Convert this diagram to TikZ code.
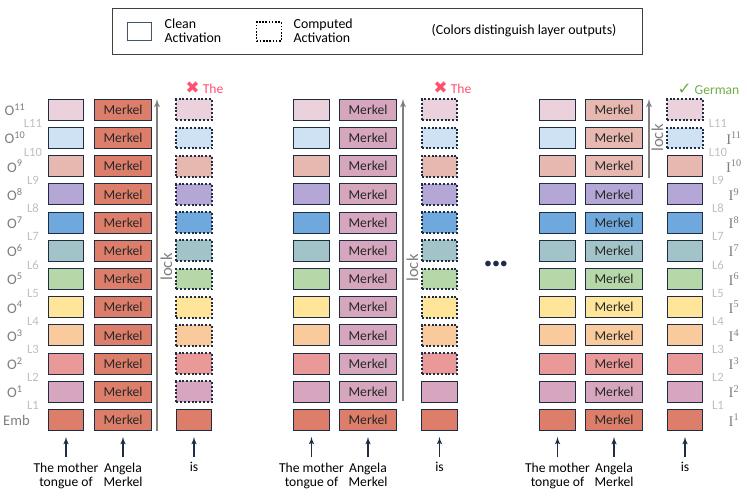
\documentclass[tikz,border=0pt]{standalone}
\usepackage{fontspec}
\setmainfont{Carlito}
\newfontfamily\symfont{DejaVu Sans}
\newfontfamily\seriffont{Liberation Serif}
\usepackage{tikz}
\usetikzlibrary{arrows}

\definecolor{lay0}{HTML}{DD7E6B}
\definecolor{lay1}{HTML}{D5A6BD}
\definecolor{lay2}{HTML}{EA9999}
\definecolor{lay3}{HTML}{F9CB9C}
\definecolor{lay4}{HTML}{FFE599}
\definecolor{lay5}{HTML}{B6D7A8}
\definecolor{lay6}{HTML}{A2C4C9}
\definecolor{lay7}{HTML}{6FA8DC}
\definecolor{lay8}{HTML}{B4A7D6}
\definecolor{lay9}{HTML}{E6B8AF}
\definecolor{lay10}{HTML}{CFE2F3}
\definecolor{lay11}{HTML}{EAD1DC}
\definecolor{navy}{HTML}{1F2D44}
\definecolor{slate}{HTML}{44546A}
\definecolor{lockgray}{HTML}{808080}
\definecolor{outgray}{HTML}{7F7F7F}
\definecolor{layergray}{HTML}{BFBFBF}
\definecolor{wrongred}{HTML}{FF4F6E}
\definecolor{rightgreen}{HTML}{70AD47}

\begin{document}
\begin{tikzpicture}
[x=0.75pt,y=-0.75pt,
cleanCell/.style={rectangle,draw=navy,line width=0.75pt,minimum width=26.5pt,minimum height=15.7pt,inner sep=0pt},
wordCell/.style={cleanCell,minimum width=43pt,font=\fontsize{10.2}{12}\selectfont,text=black!85},
computedCell/.style={cleanCell,line width=1.5pt,dash pattern=on 1.5pt off 1.35pt},
outLabel/.style={text=outgray,font=\fontsize{11}{12}\selectfont},
layerLabel/.style={text=layergray,font=\fontsize{9.5}{11}\selectfont},
inLabel/.style={text=outgray,font=\fontsize{11}{12}\seriffont},
tokenLabel/.style={anchor=north,align=center,inner sep=1pt,font=\fontsize{10.2}{10.5}\selectfont},
predLabel/.style={font=\fontsize{10.2}{12}\selectfont},
lockLabel/.style={rotate=90,text=lockgray,font=\fontsize{12.5}{13}\selectfont},
keyText/.style={anchor=west,align=left,font=\fontsize{10.4}{10.5}\selectfont},
lockEdge/.style={->,>=latex',lockgray,line width=1.1pt},
inputEdge/.style={->,>=latex',navy,line width=0.9pt,shorten <=3pt,shorten >=4.5pt}]
\useasboundingbox (0,0) rectangle (747,496);
% legend
\draw[black!75,line width=0.75pt] (112,8) rectangle (642,54);
\node[draw=slate,line width=0.75pt,minimum width=18.5pt,minimum height=14pt,inner sep=0pt] (cleanKey) at (139.5,31.5) {};
\node[keyText] (cleanText) at (160,31) {Clean\\Activation};
\node[draw=black,line width=1.2pt,dash pattern=on 1.2pt off 1.2pt,minimum width=18.5pt,minimum height=14pt,inner sep=0pt] (compKey) at (269,31.5) {};
\node[keyText] (compText) at (289,31) {Computed\\Activation};
\node[keyText] (colorText) at (427,31) {(Colors distinguish layer outputs)};
% panel 1
\node[cleanCell,fill=lay0] (1) at (66 , 420) {};
\node[cleanCell,fill=lay1] (2) at (66 , 391.8) {};
\node[cleanCell,fill=lay2] (3) at (66 , 363.6) {};
\node[cleanCell,fill=lay3] (4) at (66 , 335.4) {};
\node[cleanCell,fill=lay4] (5) at (66 , 307.2) {};
\node[cleanCell,fill=lay5] (6) at (66 , 279) {};
\node[cleanCell,fill=lay6] (7) at (66 , 250.8) {};
\node[cleanCell,fill=lay7] (8) at (66 , 222.6) {};
\node[cleanCell,fill=lay8] (9) at (66 , 194.4) {};
\node[cleanCell,fill=lay9] (10) at (66 , 166.2) {};
\node[cleanCell,fill=lay10] (11) at (66 , 138) {};
\node[cleanCell,fill=lay11] (12) at (66 , 109.8) {};
\node[wordCell,fill=lay0] (13) at (123 , 420) {Merkel};
\node[wordCell,fill=lay0] (14) at (123 , 391.8) {Merkel};
\node[wordCell,fill=lay0] (15) at (123 , 363.6) {Merkel};
\node[wordCell,fill=lay0] (16) at (123 , 335.4) {Merkel};
\node[wordCell,fill=lay0] (17) at (123 , 307.2) {Merkel};
\node[wordCell,fill=lay0] (18) at (123 , 279) {Merkel};
\node[wordCell,fill=lay0] (19) at (123 , 250.8) {Merkel};
\node[wordCell,fill=lay0] (20) at (123 , 222.6) {Merkel};
\node[wordCell,fill=lay0] (21) at (123 , 194.4) {Merkel};
\node[wordCell,fill=lay0] (22) at (123 , 166.2) {Merkel};
\node[wordCell,fill=lay0] (23) at (123 , 138) {Merkel};
\node[wordCell,fill=lay0] (24) at (123 , 109.8) {Merkel};
\node[cleanCell,fill=lay0] (25) at (194 , 420) {};
\node[computedCell,fill=lay1] (26) at (194 , 391.8) {};
\node[computedCell,fill=lay2] (27) at (194 , 363.6) {};
\node[computedCell,fill=lay3] (28) at (194 , 335.4) {};
\node[computedCell,fill=lay4] (29) at (194 , 307.2) {};
\node[computedCell,fill=lay5] (30) at (194 , 279) {};
\node[computedCell,fill=lay6] (31) at (194 , 250.8) {};
\node[computedCell,fill=lay7] (32) at (194 , 222.6) {};
\node[computedCell,fill=lay8] (33) at (194 , 194.4) {};
\node[computedCell,fill=lay9] (34) at (194 , 166.2) {};
\node[computedCell,fill=lay10] (35) at (194 , 138) {};
\node[computedCell,fill=lay11] (36) at (194 , 109.8) {};
% panel 2
\node[cleanCell,fill=lay0] (37) at (311.5 , 420) {};
\node[cleanCell,fill=lay1] (38) at (311.5 , 391.8) {};
\node[cleanCell,fill=lay2] (39) at (311.5 , 363.6) {};
\node[cleanCell,fill=lay3] (40) at (311.5 , 335.4) {};
\node[cleanCell,fill=lay4] (41) at (311.5 , 307.2) {};
\node[cleanCell,fill=lay5] (42) at (311.5 , 279) {};
\node[cleanCell,fill=lay6] (43) at (311.5 , 250.8) {};
\node[cleanCell,fill=lay7] (44) at (311.5 , 222.6) {};
\node[cleanCell,fill=lay8] (45) at (311.5 , 194.4) {};
\node[cleanCell,fill=lay9] (46) at (311.5 , 166.2) {};
\node[cleanCell,fill=lay10] (47) at (311.5 , 138) {};
\node[cleanCell,fill=lay11] (48) at (311.5 , 109.8) {};
\node[wordCell,fill=lay0] (49) at (368 , 420) {Merkel};
\node[wordCell,fill=lay1] (50) at (368 , 391.8) {Merkel};
\node[wordCell,fill=lay1] (51) at (368 , 363.6) {Merkel};
\node[wordCell,fill=lay1] (52) at (368 , 335.4) {Merkel};
\node[wordCell,fill=lay1] (53) at (368 , 307.2) {Merkel};
\node[wordCell,fill=lay1] (54) at (368 , 279) {Merkel};
\node[wordCell,fill=lay1] (55) at (368 , 250.8) {Merkel};
\node[wordCell,fill=lay1] (56) at (368 , 222.6) {Merkel};
\node[wordCell,fill=lay1] (57) at (368 , 194.4) {Merkel};
\node[wordCell,fill=lay1] (58) at (368 , 166.2) {Merkel};
\node[wordCell,fill=lay1] (59) at (368 , 138) {Merkel};
\node[wordCell,fill=lay1] (60) at (368 , 109.8) {Merkel};
\node[cleanCell,fill=lay0] (61) at (439.5 , 420) {};
\node[cleanCell,fill=lay1] (62) at (439.5 , 391.8) {};
\node[computedCell,fill=lay2] (63) at (439.5 , 363.6) {};
\node[computedCell,fill=lay3] (64) at (439.5 , 335.4) {};
\node[computedCell,fill=lay4] (65) at (439.5 , 307.2) {};
\node[computedCell,fill=lay5] (66) at (439.5 , 279) {};
\node[computedCell,fill=lay6] (67) at (439.5 , 250.8) {};
\node[computedCell,fill=lay7] (68) at (439.5 , 222.6) {};
\node[computedCell,fill=lay8] (69) at (439.5 , 194.4) {};
\node[computedCell,fill=lay9] (70) at (439.5 , 166.2) {};
\node[computedCell,fill=lay10] (71) at (439.5 , 138) {};
\node[computedCell,fill=lay11] (72) at (439.5 , 109.8) {};
% panel 3
\node[cleanCell,fill=lay0] (73) at (557.5 , 420) {};
\node[cleanCell,fill=lay1] (74) at (557.5 , 391.8) {};
\node[cleanCell,fill=lay2] (75) at (557.5 , 363.6) {};
\node[cleanCell,fill=lay3] (76) at (557.5 , 335.4) {};
\node[cleanCell,fill=lay4] (77) at (557.5 , 307.2) {};
\node[cleanCell,fill=lay5] (78) at (557.5 , 279) {};
\node[cleanCell,fill=lay6] (79) at (557.5 , 250.8) {};
\node[cleanCell,fill=lay7] (80) at (557.5 , 222.6) {};
\node[cleanCell,fill=lay8] (81) at (557.5 , 194.4) {};
\node[cleanCell,fill=lay9] (82) at (557.5 , 166.2) {};
\node[cleanCell,fill=lay10] (83) at (557.5 , 138) {};
\node[cleanCell,fill=lay11] (84) at (557.5 , 109.8) {};
\node[wordCell,fill=lay0] (85) at (614 , 420) {Merkel};
\node[wordCell,fill=lay1] (86) at (614 , 391.8) {Merkel};
\node[wordCell,fill=lay2] (87) at (614 , 363.6) {Merkel};
\node[wordCell,fill=lay3] (88) at (614 , 335.4) {Merkel};
\node[wordCell,fill=lay4] (89) at (614 , 307.2) {Merkel};
\node[wordCell,fill=lay5] (90) at (614 , 279) {Merkel};
\node[wordCell,fill=lay6] (91) at (614 , 250.8) {Merkel};
\node[wordCell,fill=lay7] (92) at (614 , 222.6) {Merkel};
\node[wordCell,fill=lay8] (93) at (614 , 194.4) {Merkel};
\node[wordCell,fill=lay9] (94) at (614 , 166.2) {Merkel};
\node[wordCell,fill=lay9] (95) at (614 , 138) {Merkel};
\node[wordCell,fill=lay9] (96) at (614 , 109.8) {Merkel};
\node[cleanCell,fill=lay0] (97) at (685 , 420) {};
\node[cleanCell,fill=lay1] (98) at (685 , 391.8) {};
\node[cleanCell,fill=lay2] (99) at (685 , 363.6) {};
\node[cleanCell,fill=lay3] (100) at (685 , 335.4) {};
\node[cleanCell,fill=lay4] (101) at (685 , 307.2) {};
\node[cleanCell,fill=lay5] (102) at (685 , 279) {};
\node[cleanCell,fill=lay6] (103) at (685 , 250.8) {};
\node[cleanCell,fill=lay7] (104) at (685 , 222.6) {};
\node[cleanCell,fill=lay8] (105) at (685 , 194.4) {};
\node[cleanCell,fill=lay9] (106) at (685 , 166.2) {};
\node[computedCell,fill=lay10] (107) at (685 , 138) {};
\node[computedCell,fill=lay11] (108) at (685 , 109.8) {};
% left labels
\node[outLabel] (o0) at (16.5 , 420) {Emb};
\node[outLabel] (o1) at (15 , 391.8) {O\textsuperscript{1}};
\node[outLabel] (o2) at (15 , 363.6) {O\textsuperscript{2}};
\node[outLabel] (o3) at (15 , 335.4) {O\textsuperscript{3}};
\node[outLabel] (o4) at (15 , 307.2) {O\textsuperscript{4}};
\node[outLabel] (o5) at (15 , 279) {O\textsuperscript{5}};
\node[outLabel] (o6) at (15 , 250.8) {O\textsuperscript{6}};
\node[outLabel] (o7) at (15 , 222.6) {O\textsuperscript{7}};
\node[outLabel] (o8) at (15 , 194.4) {O\textsuperscript{8}};
\node[outLabel] (o9) at (15 , 166.2) {O\textsuperscript{9}};
\node[outLabel] (o10) at (15 , 138) {O\textsuperscript{10}};
\node[outLabel] (o11) at (15 , 109.8) {O\textsuperscript{11}};
\node[layerLabel] (l1) at (33 , 405.9) {L1};
\node[layerLabel] (l2) at (33 , 377.7) {L2};
\node[layerLabel] (l3) at (33 , 349.5) {L3};
\node[layerLabel] (l4) at (33 , 321.3) {L4};
\node[layerLabel] (l5) at (33 , 293.1) {L5};
\node[layerLabel] (l6) at (33 , 264.9) {L6};
\node[layerLabel] (l7) at (33 , 236.7) {L7};
\node[layerLabel] (l8) at (33 , 208.5) {L8};
\node[layerLabel] (l9) at (33 , 180.3) {L9};
\node[layerLabel] (l10) at (33 , 152.1) {L10};
\node[layerLabel] (l11) at (33 , 123.9) {L11};
% right labels
\node[layerLabel] (r1) at (718 , 405.9) {L1};
\node[layerLabel] (r2) at (718 , 377.7) {L2};
\node[layerLabel] (r3) at (718 , 349.5) {L3};
\node[layerLabel] (r4) at (718 , 321.3) {L4};
\node[layerLabel] (r5) at (718 , 293.1) {L5};
\node[layerLabel] (r6) at (718 , 264.9) {L6};
\node[layerLabel] (r7) at (718 , 236.7) {L7};
\node[layerLabel] (r8) at (718 , 208.5) {L8};
\node[layerLabel] (r9) at (718 , 180.3) {L9};
\node[layerLabel] (r10) at (718 , 152.1) {L10};
\node[layerLabel] (r11) at (718 , 123.9) {L11};
\node[inLabel] (i1) at (734 , 420) {I\textsuperscript{1}};
\node[inLabel] (i2) at (734 , 391.8) {I\textsuperscript{2}};
\node[inLabel] (i3) at (734 , 363.6) {I\textsuperscript{3}};
\node[inLabel] (i4) at (734 , 335.4) {I\textsuperscript{4}};
\node[inLabel] (i5) at (734 , 307.2) {I\textsuperscript{5}};
\node[inLabel] (i6) at (734 , 279) {I\textsuperscript{6}};
\node[inLabel] (i7) at (734 , 250.8) {I\textsuperscript{7}};
\node[inLabel] (i8) at (734 , 222.6) {I\textsuperscript{8}};
\node[inLabel] (i9) at (734 , 194.4) {I\textsuperscript{9}};
\node[inLabel] (i10) at (734 , 166.2) {I\textsuperscript{10}};
\node[inLabel] (i11) at (734 , 138) {I\textsuperscript{11}};
% predictions
\node[predLabel,text=wrongred] (pred1) at (204.5 , 88) {{\symfont\fontsize{12.5}{12}\selectfont ✖} The};
\node[predLabel,text=wrongred] (pred2) at (452.5 , 88) {{\symfont\fontsize{12.5}{12}\selectfont ✖} The};
\node[predLabel,text=rightgreen] (pred3) at (708.5 , 89) {{\symfont\fontsize{12.5}{12}\selectfont ✓} German};
% lock
\coordinate (lk1a) at (157 , 431);
\coordinate (lk1b) at (157 , 99);
\coordinate (lk2a) at (403 , 401);
\coordinate (lk2b) at (403 , 99);
\coordinate (lk3a) at (649 , 178);
\coordinate (lk3b) at (649 , 99);
\draw[lockEdge] (lk1a) -- (lk1b);
\draw[lockEdge] (lk2a) -- (lk2b);
\draw[lockEdge] (lk3a) -- (lk3b);
\node[lockLabel] (lock1) at (166.5 , 267) {lock};
\node[lockLabel] (lock2) at (412.5 , 268) {lock};
\node[lockLabel] (lock3) at (657.5 , 138) {lock};
\node[text=navy,font=\fontsize{12}{12}\selectfont] (dots) at (496 , 265) {•••};
% inputs
\node[tokenLabel] (t1) at (66 , 461) {The mother\\tongue of};
\node[tokenLabel] (t2) at (123 , 461) {Angela\\Merkel};
\node[tokenLabel] (t3) at (194 , 461) {is};
\node[tokenLabel] (t4) at (311.5 , 461) {The mother\\tongue of};
\node[tokenLabel] (t5) at (368 , 461) {Angela\\Merkel};
\node[tokenLabel] (t6) at (439.5 , 461) {is};
\node[tokenLabel] (t7) at (557.5 , 461) {The mother\\tongue of};
\node[tokenLabel] (t8) at (614 , 461) {Angela\\Merkel};
\node[tokenLabel] (t9) at (685 , 461) {is};
\draw[inputEdge] (t1) -- (1);
\draw[inputEdge] (t2) -- (13);
\draw[inputEdge] (t3) -- (25);
\draw[inputEdge] (t4) -- (37);
\draw[inputEdge] (t5) -- (49);
\draw[inputEdge] (t6) -- (61);
\draw[inputEdge] (t7) -- (73);
\draw[inputEdge] (t8) -- (85);
\draw[inputEdge] (t9) -- (97);
\end{tikzpicture}
\end{document}
